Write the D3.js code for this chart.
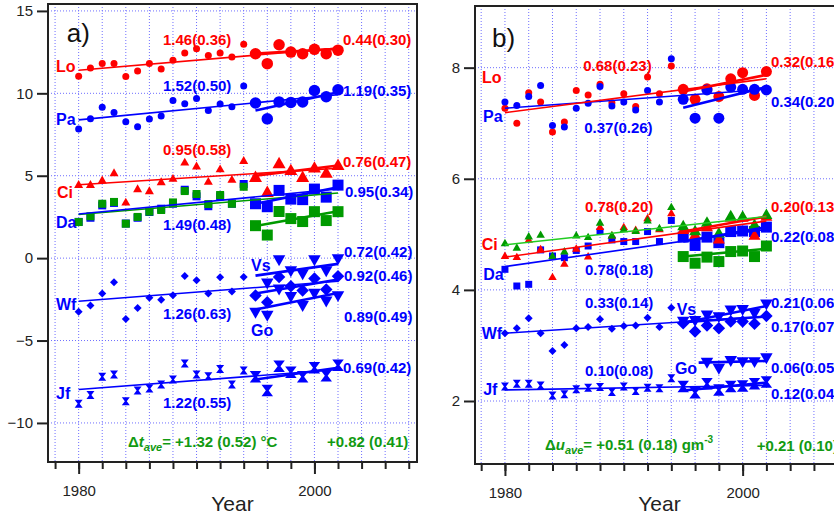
<!DOCTYPE html>
<html>
<head>
<meta charset="utf-8">
<script src="https://cdn.jsdelivr.net/npm/d3@7"></script>
<style>
  body { margin: 0; background: #fff; }
  svg text { font-family: "Liberation Sans", Arial, sans-serif; }
</style>
</head>
<body>
<svg id="chart" width="834" height="517"></svg>
<script>
// ---- years ----
var yearsEarly = [1980, 1981, 1982, 1983, 1984, 1985, 1986, 1987, 1988, 1989, 1990, 1991, 1992, 1993, 1994];
var yearsLate = [1995, 1996, 1997, 1998, 1999, 2000, 2001, 2002];
var yearsVsA = [1996, 1997, 1998, 1999, 2000, 2001, 2002];
var yearsGoB = [1997, 1998, 1999, 2000, 2001, 2002];

// ---- panel a: temperature (degC) ----
var aLoSmall = [11.04, 11.53, 11.81, 11.81, 11.02, 11.36, 11.81, 11.47, 12.01, 12.44, 12.70, 12.29, 12.45, 12.21, 12.98];
var aLoLarge = [12.40, 11.80, 12.95, 12.50, 12.40, 12.67, 12.40, 12.62];
var aPaSmall = [7.83, 8.45, 9.16, 8.84, 8.27, 7.97, 8.44, 8.62, 9.56, 9.36, 9.69, 8.96, 9.35, 9.18, 10.44];
var aPaLarge = [9.41, 8.45, 9.48, 9.45, 9.48, 10.17, 9.79, 10.21];
var aCiSmall = [4.45, 4.45, 4.72, 5.16, 3.38, 4.19, 4.07, 4.62, 4.82, 5.81, 5.57, 4.64, 5.40, 4.76, 5.91];
var aCiLarge = [4.90, 3.99, 5.73, 5.32, 4.90, 5.47, 5.16, 5.63];
var aDaSmall = [2.20, 2.45, 3.20, 3.35, 2.10, 2.45, 2.80, 3.00, 3.30, 4.15, 3.75, 3.15, 3.75, 3.30, 4.50];
var aDaLarge = [3.30, 3.12, 4.11, 3.58, 3.55, 4.19, 3.70, 4.43];
var aGrSmall = [2.19, 2.54, 3.30, 3.41, 2.09, 2.50, 2.82, 2.92, 3.38, 4.07, 3.89, 3.28, 3.83, 3.30, 4.33];
var aGrLarge = [1.97, 1.40, 2.83, 2.40, 2.22, 2.82, 2.28, 2.82];
var aWfSmall = [-3.26, -2.88, -2.15, -1.46, -3.69, -3.02, -2.41, -2.53, -2.25, -1.08, -1.34, -2.15, -1.16, -2.03, -1.14];
var aWfLarge = [-2.27, -2.68, -1.14, -1.71, -1.97, -1.24, -1.91, -1.10];
var aVs = [-1.50, -0.09, -0.76, -0.94, -0.09, -0.76, -0.03];
var aGo = [-3.28, -3.46, -1.87, -2.32, -2.87, -2.12, -2.60, -2.27];
var aJfSmall = [-8.84, -8.31, -7.20, -7.06, -8.68, -8.03, -7.91, -7.67, -7.36, -6.39, -7.06, -7.16, -6.72, -7.67, -6.82];
var aJfLarge = [-7.20, -8.03, -6.56, -6.92, -7.20, -6.65, -7.13, -6.50];

// trend lines [year0, value0, year1, value1]
var aLoTrend = [1980, 11.40, 2002, 12.74], aLoTrendShort = [1995, 12.42, 2002, 12.70];
var aPaTrend = [1980, 8.39, 2002, 9.91], aPaTrendShort = [1995, 8.96, 2002, 10.06];
var aCiTrend = [1980, 4.45, 2002, 5.45], aCiTrendShort = [1995, 5.00, 2002, 5.62];
var aDaTrend = [1980, 2.68, 2002, 4.20], aDaTrendShort = [1995, 3.30, 2002, 4.30];
var aGrTrend = [1980, 2.65, 2002, 3.95], aGrTrendShort = [1995, 1.95, 2002, 2.85];
var aWfTrend = [1980, -2.62, 2002, -1.40], aWfTrendShort = [1995, -2.15, 2002, -1.30];
var aVsTrend = [1995, -1.06, 2002, -0.35];
var aGoTrend = [1995, -3.12, 2002, -2.11];
var aJfTrend = [1980, -7.97, 2002, -6.76], aJfTrendShort = [1995, -7.36, 2002, -6.65];

// ---- panel b: absolute humidity (g m-3) ----
var bLoSmall = [7.27, 7.00, 7.55, 7.38, 6.84, 7.02, 7.59, 7.51, 7.70, 7.37, 7.53, 7.30, 7.83, 7.53, 8.03];
var bLoLarge = [7.61, 7.43, 7.62, 7.48, 7.80, 7.91, 7.50, 7.93];
var bPaSmall = [7.38, 7.32, 7.48, 7.68, 6.96, 6.93, 7.27, 7.36, 7.66, 7.31, 7.38, 7.24, 7.59, 7.38, 8.16];
var bPaLarge = [7.43, 7.09, 7.60, 7.09, 7.65, 7.61, 7.61, 7.60];
var bDaSmall = [4.37, 4.07, 4.10, 4.72, 4.61, 4.58, 4.71, 4.79, 5.05, 4.90, 4.87, 4.87, 5.05, 4.87, 5.25];
var bDaLarge = [4.95, 4.80, 4.95, 4.85, 5.05, 5.06, 5.05, 5.13];
var bCiSmall = [4.61, 4.59, 4.90, 4.73, 4.23, 4.47, 4.74, 4.60, 5.13, 4.98, 5.13, 5.08, 5.29, 5.09, 5.38];
var bCiLarge = [5.08, 4.99, 5.13, 4.91, 5.30, 5.30, 4.98, 5.32];
var bGrSmall = [4.84, 4.76, 4.96, 4.99, 4.61, 4.69, 4.98, 4.95, 5.21, 4.98, 5.09, 5.06, 5.25, 5.11, 5.49];
var bGrLarge = [5.15, 5.06, 5.21, 5.02, 5.33, 5.32, 5.17, 5.35];
var bGrSq = [4.60, 4.48, 4.59, 4.51, 4.69, 4.70, 4.60, 4.79];
var bWfSmall = [3.22, 3.31, 3.49, 3.22, 2.90, 3.01, 3.31, 3.33, 3.47, 3.30, 3.35, 3.36, 3.50, 3.33, 3.68];
var bWfLarge = [3.40, 3.25, 3.36, 3.31, 3.43, 3.43, 3.39, 3.53];
var bVs = [3.44, 3.45, 3.55, 3.52, 3.64, 3.65, 3.58, 3.75];
var bGo = [2.70, 2.59, 2.73, 2.71, 2.71, 2.78];
var bJfSmall = [2.26, 2.31, 2.31, 2.28, 2.10, 2.12, 2.21, 2.24, 2.25, 2.16, 2.26, 2.18, 2.24, 2.23, 2.41];
var bJfLarge = [2.26, 2.15, 2.31, 2.20, 2.26, 2.27, 2.31, 2.34];

var bLoTrend = [1980, 7.19, 2002, 7.80], bLoTrendShort = [1995, 7.57, 2002, 7.87];
var bPaTrend = [1980, 7.27, 2002, 7.61], bPaTrendShort = [1995, 7.28, 2002, 7.65];
var bCiTrend = [1980, 4.59, 2002, 5.24], bCiTrendShort = [1995, 5.05, 2002, 5.32];
var bGrTrend = [1980, 4.81, 2002, 5.32];
var bDaTrend = [1980, 4.42, 2002, 5.09], bDaTrendShort = [1995, 4.87, 2002, 5.13];
var bGrSqTrend = [1995, 4.60, 2002, 4.74];
var bWfTrend = [1980, 3.22, 2002, 3.52], bWfTrendShort = [1995, 3.42, 2002, 3.52];
var bVsTrend = [1995, 3.41, 2002, 3.71];
var bGoTrend = [1996.3, 2.69, 2002, 2.72];
var bJfTrend = [1980, 2.20, 2002, 2.28], bJfTrendShort = [1995, 2.19, 2002, 2.33];

// axis ticks
var gridYears = [1978, 1980, 1982, 1984, 1986, 1988, 1990, 1992, 1994, 1996, 1998, 2000, 2002, 2004, 2006, 2008];
var majorYears = [1980, 2000];
var aYTicks = [-10, -5, 0, 5, 10, 15];
var bYTicks = [2, 4, 6, 8];

var RED = '#ff0000', BLUE = '#0000ff', GREEN = '#009a00', LIME = '#22cc22', TXTGREEN = '#129a12';

// labels: [text, year, value, colour]
var aLabels = [
  ['Lo', 1978.08, 11.62, RED], ['Pa', 1978.08, 8.39, BLUE], ['Ci', 1978.16, 4.00, RED],
  ['Da', 1978.08, 2.15, BLUE], ['Wf', 1978.08, -2.78, BLUE], ['Jf', 1978.08, -8.18, BLUE],
  ['1.46(0.36)', 1987.15, 13.28, RED], ['0.44(0.30)', 2002.42, 13.24, RED],
  ['1.52(0.50)', 1987.15, 10.45, BLUE], ['1.19(0.35)', 2002.42, 10.16, BLUE],
  ['0.95(0.58)', 1987.15, 6.57, RED], ['0.76(0.47)', 2002.42, 5.82, RED],
  ['0.95(0.34)', 2002.59, 4.00, BLUE], ['1.49(0.48)', 1987.15, 2.01, BLUE],
  ['0.72(0.42)', 2002.51, 0.36, BLUE], ['Vs', 1994.62, -0.45, BLUE],
  ['0.92(0.46)', 2002.51, -1.08, BLUE], ['1.26(0.63)', 1987.15, -3.39, BLUE],
  ['0.89(0.49)', 2002.51, -3.55, BLUE], ['Go', 1994.62, -4.36, BLUE],
  ['0.69(0.42)', 2002.42, -6.68, BLUE], ['1.22(0.55)', 1987.15, -8.77, BLUE],
  ['+0.82 (0.41)', 2001.06, -11.13, TXTGREEN]
];
var bLabels = [
  ['Lo', 1978.06, 7.83, RED], ['Pa', 1978.15, 7.12, BLUE], ['Ci', 1978.04, 4.82, RED],
  ['Da', 1978.17, 4.27, BLUE], ['Wf', 1978.04, 3.22, BLUE], ['Jf', 1978.17, 2.21, BLUE],
  ['0.68(0.23)', 1986.59, 8.04, RED], ['0.32(0.16)', 2002.38, 8.11, RED],
  ['0.37(0.26)', 1986.67, 6.91, BLUE], ['0.34(0.20)', 2002.38, 7.39, BLUE],
  ['0.78(0.20)', 1986.73, 5.49, RED], ['0.20(0.13)', 2002.38, 5.49, RED],
  ['0.22(0.08)', 2002.38, 4.95, BLUE], ['0.78(0.18)', 1986.73, 4.36, BLUE],
  ['0.33(0.14)', 1986.73, 3.76, BLUE], ['Vs', 1994.45, 3.64, BLUE],
  ['0.21(0.06)', 2002.38, 3.76, BLUE], ['0.17(0.07)', 2002.38, 3.34, BLUE],
  ['Go', 1994.30, 2.59, BLUE], ['0.06(0.05)', 2002.38, 2.59, BLUE],
  ['0.10(0.08)', 1986.73, 2.55, BLUE], ['0.12(0.04)', 2002.38, 2.13, BLUE],
  ['+0.21 (0.10)', 2001.18, 1.19, TXTGREEN]
];

var svg = d3.select('#chart');

// marker outlines, s = full width in px
function markerPath(shape, s) {
  var h = s / 2;
  if (shape === 'circle') return d3.symbol(d3.symbolCircle, Math.PI * h * h)();
  if (shape === 'square') return 'M' + -h + ',' + -h + 'H' + h + 'V' + h + 'H' + -h + 'Z';
  if (shape === 'diamond') return 'M0,' + -h + 'L' + h + ',0L0,' + h + 'L' + -h + ',0Z';
  if (shape === 'up') return 'M0,' + (-h * 1.05) + 'L' + h + ',' + (h * 0.7) + 'L' + -h + ',' + (h * 0.7) + 'Z';
  if (shape === 'down') return 'M0,' + (h * 1.05) + 'L' + h + ',' + (-h * 0.7) + 'L' + -h + ',' + (-h * 0.7) + 'Z';
  // hourglass: two triangles tip to tip
  return 'M' + -h + ',' + -h + 'H' + h + 'L' + (h * 0.25) + ',0L' + h + ',' + h + 'H' + -h + 'L' + (-h * 0.25) + ',0Z';
}

function drawPanel(p) {
  var g = svg.append('g');
  var x = d3.scaleLinear().domain(p.xDomain).range([p.left, p.right]);
  var y = d3.scaleLinear().domain(p.yDomain).range([p.bottom, p.top]);

  // dotted grid
  g.append('g').selectAll('line').data(gridYears).enter().append('line')
    .attr('x1', function(d) { return x(d); }).attr('x2', function(d) { return x(d); })
    .attr('y1', p.top).attr('y2', p.bottom)
    .attr('stroke', '#6f6fff').attr('stroke-width', 1).attr('stroke-dasharray', '1,2');
  g.append('g').selectAll('line').data(p.yTicks).enter().append('line')
    .attr('x1', p.left).attr('x2', p.right)
    .attr('y1', function(d) { return y(d); }).attr('y2', function(d) { return y(d); })
    .attr('stroke', '#6f6fff').attr('stroke-width', 1).attr('stroke-dasharray', '1,2');

  // markers
  p.series.forEach(function(s) {
    g.append('g').selectAll('path').data(s.values).enter().append('path')
      .attr('d', markerPath(s.shape, s.size))
      .attr('transform', function(d, i) { return 'translate(' + x(s.years[i]) + ',' + y(d) + ')'; })
      .attr('fill', s.color);
  });

  // trend lines
  g.append('g').selectAll('line').data(p.trends).enter().append('line')
    .attr('x1', function(d) { return x(d.t[0]); }).attr('y1', function(d) { return y(d.t[1]); })
    .attr('x2', function(d) { return x(d.t[2]); }).attr('y2', function(d) { return y(d.t[3]); })
    .attr('stroke', function(d) { return d.color; })
    .attr('stroke-width', function(d) { return d.w; });

  // frame
  g.append('rect')
    .attr('x', p.left).attr('y', p.top)
    .attr('width', p.right - p.left).attr('height', p.bottom - p.top)
    .attr('fill', 'none').attr('stroke', '#222').attr('stroke-width', 2);

  // y axis
  var yAxis = g.append('g').attr('transform', 'translate(' + (p.left - 1) + ',0)')
    .call(d3.axisLeft(y).tickValues(p.yTicks).tickSize(10).tickPadding(4).tickFormat(d3.format('d')));
  yAxis.select('.domain').remove();
  yAxis.selectAll('line').attr('stroke', '#222').attr('stroke-width', 2);
  yAxis.selectAll('text').attr('font-size', 15).attr('fill', '#222')
    .style('font-family', '"Liberation Sans", Arial, sans-serif');

  // x axis: minor and major ticks
  var xMinor = g.append('g').attr('transform', 'translate(0,' + (p.bottom + 1) + ')')
    .call(d3.axisBottom(x).tickValues(gridYears).tickSize(6).tickFormat(''));
  xMinor.select('.domain').remove();
  xMinor.selectAll('line').attr('stroke', '#222').attr('stroke-width', 2);
  var xMajor = g.append('g').attr('transform', 'translate(0,' + (p.bottom + 1) + ')')
    .call(d3.axisBottom(x).tickValues(majorYears).tickSize(11).tickPadding(11).tickFormat(d3.format('d')));
  xMajor.select('.domain').remove();
  xMajor.selectAll('line').attr('stroke', '#222').attr('stroke-width', 2);
  xMajor.selectAll('text').attr('font-size', 15).attr('fill', '#222')
    .style('font-family', '"Liberation Sans", Arial, sans-serif');

  g.append('text')
    .attr('x', (p.left + p.right) / 2).attr('y', 511)
    .attr('text-anchor', 'middle').attr('font-size', 21).attr('fill', '#222')
    .text('Year');

  // panel letter
  g.append('text')
    .attr('x', x(p.letterPos[0])).attr('y', y(p.letterPos[1]))
    .attr('dy', '0.35em').attr('font-size', 26).attr('fill', '#111')
    .text(p.letter);

  // series / slope labels
  g.append('g').selectAll('text').data(p.labels).enter().append('text')
    .attr('x', function(d) { return x(d[1]); })
    .attr('y', function(d) { return y(d[2]); })
    .attr('dy', '0.35em')
    .attr('font-size', function(d) { return d[0].length <= 2 ? 16 : 15; })
    .attr('font-weight', 'bold')
    .attr('fill', function(d) { return d[3]; })
    .text(function(d) { return d[0]; });

  // average change annotation
  var t = g.append('text')
    .attr('x', x(p.deltaPos[0])).attr('y', y(p.deltaPos[1]))
    .attr('dy', '0.35em').attr('font-size', 15).attr('font-weight', 'bold')
    .attr('fill', TXTGREEN);
  t.append('tspan').text('\u0394');
  t.append('tspan').attr('font-style', 'italic').text(p.deltaVar);
  t.append('tspan').attr('font-style', 'italic').attr('font-size', 11).attr('dy', 4).text('ave');
  t.append('tspan').attr('dy', -4).text('= ' + p.deltaText);
  if (p.deltaSup) {
    t.append('tspan').attr('font-size', 10).attr('dy', -7).text(p.deltaSup);
  }
}

drawPanel({
  left: 48, right: 417, top: 4, bottom: 462,
  xDomain: [1977.4, 2008.7], yDomain: [-12.37, 15.42],
  yTicks: aYTicks,
  letter: 'a)', letterPos: [1979.0, 13.67],
  labels: aLabels,
  deltaPos: [1984.19, -11.13], deltaVar: 't', deltaText: '+1.32 (0.52) \u00B0C', deltaSup: null,
  series: [
    { years: yearsEarly, values: aLoSmall, shape: 'circle', size: 7, color: RED },
    { years: yearsLate, values: aLoLarge, shape: 'circle', size: 11.5, color: RED },
    { years: yearsEarly, values: aPaSmall, shape: 'circle', size: 7, color: BLUE },
    { years: yearsLate, values: aPaLarge, shape: 'circle', size: 11.5, color: BLUE },
    { years: yearsEarly, values: aCiSmall, shape: 'up', size: 9, color: RED },
    { years: yearsLate, values: aCiLarge, shape: 'up', size: 13, color: RED },
    { years: yearsEarly, values: aDaSmall, shape: 'square', size: 8, color: BLUE },
    { years: yearsEarly, values: aGrSmall, shape: 'square', size: 8, color: GREEN },
    { years: yearsLate, values: aGrLarge, shape: 'square', size: 11, color: GREEN },
    { years: yearsLate, values: aDaLarge, shape: 'square', size: 11, color: BLUE },
    { years: yearsEarly, values: aWfSmall, shape: 'diamond', size: 8, color: BLUE },
    { years: yearsLate, values: aWfLarge, shape: 'diamond', size: 12.5, color: BLUE },
    { years: yearsVsA, values: aVs, shape: 'down', size: 12.5, color: BLUE },
    { years: yearsLate, values: aGo, shape: 'down', size: 12.5, color: BLUE },
    { years: yearsEarly, values: aJfSmall, shape: 'hourglass', size: 8, color: BLUE },
    { years: yearsLate, values: aJfLarge, shape: 'hourglass', size: 11.5, color: BLUE }
  ],
  trends: [
    { t: aLoTrend, w: 1.6, color: RED }, { t: aLoTrendShort, w: 2.6, color: RED },
    { t: aPaTrend, w: 1.6, color: BLUE }, { t: aPaTrendShort, w: 2.6, color: BLUE },
    { t: aCiTrend, w: 1.6, color: RED }, { t: aCiTrendShort, w: 2.6, color: RED },
    { t: aGrTrend, w: 1.6, color: GREEN }, { t: aGrTrendShort, w: 2.6, color: GREEN },
    { t: aDaTrend, w: 1.6, color: BLUE }, { t: aDaTrendShort, w: 2.6, color: BLUE },
    { t: aWfTrend, w: 1.6, color: BLUE }, { t: aWfTrendShort, w: 2.6, color: BLUE },
    { t: aVsTrend, w: 2.6, color: BLUE }, { t: aGoTrend, w: 2.6, color: BLUE },
    { t: aJfTrend, w: 1.6, color: BLUE }, { t: aJfTrendShort, w: 2.6, color: BLUE }
  ]
});

drawPanel({
  left: 475, right: 844, top: 6, bottom: 464,
  xDomain: [1977.48, 2008.53], yDomain: [0.866, 9.11],
  yTicks: bYTicks,
  letter: 'b)', letterPos: [1978.91, 8.53],
  labels: bLabels,
  deltaPos: [1983.37, 1.21], deltaVar: 'u', deltaText: '+0.51 (0.18) gm', deltaSup: '-3',
  series: [
    { years: yearsEarly, values: bLoSmall, shape: 'circle', size: 7, color: RED },
    { years: yearsEarly, values: bPaSmall, shape: 'circle', size: 7, color: BLUE },
    { years: yearsLate, values: bLoLarge, shape: 'circle', size: 11, color: RED },
    { years: yearsLate, values: bPaLarge, shape: 'circle', size: 11, color: BLUE },
    { years: yearsEarly, values: bDaSmall, shape: 'square', size: 7, color: BLUE },
    { years: yearsEarly, values: bCiSmall, shape: 'up', size: 8.5, color: RED },
    { years: yearsEarly, values: bGrSmall, shape: 'up', size: 8.5, color: GREEN },
    { years: yearsLate, values: bDaLarge, shape: 'square', size: 11, color: BLUE },
    { years: yearsLate, values: bCiLarge, shape: 'up', size: 12, color: RED },
    { years: yearsLate, values: bGrLarge, shape: 'up', size: 12, color: GREEN },
    { years: yearsLate, values: bGrSq, shape: 'square', size: 11, color: GREEN },
    { years: yearsEarly, values: bWfSmall, shape: 'diamond', size: 8, color: BLUE },
    { years: yearsLate, values: bWfLarge, shape: 'diamond', size: 12.5, color: BLUE },
    { years: yearsLate, values: bVs, shape: 'down', size: 12.5, color: BLUE },
    { years: yearsGoB, values: bGo, shape: 'down', size: 12.5, color: BLUE },
    { years: yearsEarly, values: bJfSmall, shape: 'hourglass', size: 8, color: BLUE },
    { years: yearsLate, values: bJfLarge, shape: 'hourglass', size: 11.5, color: BLUE }
  ],
  trends: [
    { t: bPaTrend, w: 1.6, color: BLUE }, { t: bPaTrendShort, w: 2.6, color: BLUE },
    { t: bLoTrend, w: 1.6, color: RED }, { t: bLoTrendShort, w: 2.6, color: RED },
    { t: bDaTrend, w: 1.6, color: BLUE }, { t: bDaTrendShort, w: 2.6, color: BLUE },
    { t: bCiTrend, w: 1.6, color: RED }, { t: bCiTrendShort, w: 2.6, color: RED },
    { t: bGrTrend, w: 1.6, color: LIME }, { t: bGrSqTrend, w: 2.6, color: GREEN },
    { t: bWfTrend, w: 1.6, color: BLUE }, { t: bWfTrendShort, w: 2.6, color: BLUE },
    { t: bVsTrend, w: 2.6, color: BLUE }, { t: bGoTrend, w: 2.6, color: BLUE },
    { t: bJfTrend, w: 1.6, color: BLUE }, { t: bJfTrendShort, w: 2.6, color: BLUE }
  ]
});
</script>
</body>
</html>
